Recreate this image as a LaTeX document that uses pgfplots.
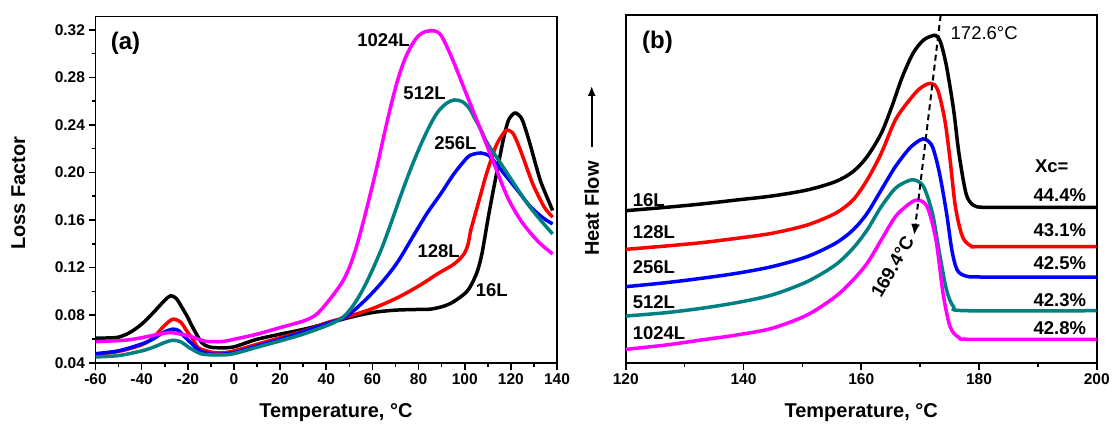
\documentclass[border=0pt]{standalone}
\usepackage{fontspec}
\setmainfont{Liberation Sans}
\usepackage{pgfplots}
\pgfplotsset{compat=1.18}
\usetikzlibrary{arrows.meta}
\definecolor{cteal}{RGB}{0,128,128}
\definecolor{cmag}{RGB}{255,0,255}
\definecolor{cred}{RGB}{255,0,0}
\definecolor{cblue}{RGB}{0,0,255}
\begin{document}
\begin{tikzpicture}
\useasboundingbox (0,0) rectangle (1113pt,426pt);
\pgfplotsset{common/.style={scale only axis, axis line style={line width=1.6pt},
  tick style={line width=1.6pt, black}, tick align=outside, major tick length=7pt, minor tick length=4pt,
  xtick pos=bottom, ytick pos=left,
  tick label style={font=\fontsize{15.5}{18}\selectfont\bfseries},
  /pgf/number format/assume math mode=true,
  label style={font=\fontsize{20}{24}\selectfont\bfseries},
  every axis plot/.append style={line width=3.5pt, smooth, no markers}}}
\newcommand{\clab}{\fontsize{18.5}{22}\selectfont\bfseries}
% ---------------- (a)
\begin{axis}[common, at={(95.5pt,63.3pt)}, anchor=south west, width=461.5pt, height=346pt,
  xmin=-60, xmax=140, ymin=0.04, ymax=0.331,
  xtick={-60,-40,-20,0,20,40,60,80,100,120,140},
  ytick={0.04,0.08,0.12,0.16,0.20,0.24,0.28,0.32},
  minor x tick num=1, minor y tick num=1,
  yticklabel style={/pgf/number format/.cd, fixed, fixed zerofill, precision=2},
  xlabel={Temperature, °C}, ylabel={Loss Factor},
  xlabel style={at={(axis description cs:0.521,-0.143)}, anchor=center},
  ylabel style={at={(axis description cs:-0.167,0.49)}, anchor=center}]
% 16L
\addplot[black] coordinates {(-60,0.0606) (-55,0.0608) (-50,0.0615) (-45,0.0655) (-40,0.0724) (-35,0.082) (-30,0.0925) (-27.4,0.0963) (-25,0.094) (-22.5,0.0864) (-20,0.078) (-17.8,0.0695) (-14,0.0569) (-11,0.0535) (-8.5,0.0527) (-4,0.0525) (0,0.0533) (5,0.0565) (10,0.0597) (20,0.064) (30,0.068) (40,0.0729) (50,0.078) (60,0.0822) (70,0.0842) (80,0.0848) (85,0.085) (90,0.087) (94,0.090) (98,0.095) (101,0.100) (103,0.106) (105.5,0.117) (107.5,0.132) (110,0.160) (112,0.181) (114.5,0.206) (117,0.230) (119,0.244) (121.4,0.2498) (123,0.249) (125,0.244) (128,0.226) (131,0.205) (133,0.192) (135.5,0.180) (138.1,0.168)};
% 128L
\addplot[cred] coordinates {(-60,0.047) (-50,0.0495) (-40,0.055) (-35,0.061) (-30,0.0715) (-26.4,0.0766) (-23,0.074) (-20.9,0.068) (-18,0.060) (-15.5,0.0527) (-12,0.050) (-8.5,0.0484) (-4,0.0485) (0,0.0499) (10,0.0555) (20,0.061) (30,0.0665) (40,0.0735) (49,0.0785) (60,0.0855) (70.7,0.0945) (80.9,0.1055) (88.1,0.1146) (95.4,0.123) (99.7,0.1315) (101.5,0.140) (102.6,0.1511) (105,0.168) (107,0.182) (109,0.196) (111.3,0.210) (113.5,0.222) (115.7,0.2299) (118,0.2355) (120,0.2345) (121.4,0.2313) (123.5,0.222) (125.8,0.210) (128,0.198) (130.1,0.1877) (134.5,0.1708) (138.1,0.1624)};
% 256L
\addplot[cblue] coordinates {(-60,0.0476) (-50,0.050) (-40,0.0557) (-35,0.060) (-30,0.066) (-26.4,0.0682) (-24,0.067) (-21,0.061) (-18,0.0555) (-14.7,0.0499) (-10,0.0475) (-7,0.047) (0,0.0485) (10,0.054) (20,0.0597) (30,0.066) (40,0.0728) (48,0.078) (56,0.091) (63.5,0.1062) (70.7,0.124) (78,0.1475) (83.8,0.166) (89.6,0.182) (95.4,0.199) (101.2,0.2127) (104,0.2155) (107,0.2164) (109,0.2155) (111.3,0.2127) (117.1,0.199) (122.9,0.1849) (128.7,0.1708) (134.5,0.161) (138.1,0.1568)};
% 512L
\addplot[cteal] coordinates {(-60,0.0448) (-50,0.046) (-40,0.0499) (-35,0.053) (-30,0.057) (-26.4,0.0589) (-23,0.0575) (-19.4,0.0527) (-16,0.049) (-13.2,0.047) (-5.4,0.0465) (0,0.0476) (10,0.053) (20,0.0583) (30,0.064) (40,0.071) (44,0.0745) (48,0.0795) (52,0.089) (56,0.102) (60,0.118) (64,0.136) (68,0.157) (72,0.179) (76,0.200) (80,0.219) (84,0.236) (88,0.250) (92,0.258) (95.5,0.261) (99,0.2595) (102,0.254) (104,0.2468) (107,0.236) (109.9,0.2243) (115.7,0.2074) (121.4,0.1905) (127.2,0.1737) (133,0.1596) (138.1,0.1483)};
% 1024L
\addplot[cmag] coordinates {(-60,0.0577) (-47.3,0.0589) (-40,0.061) (-36.4,0.0625) (-30,0.0648) (-27.1,0.0653) (-23,0.064) (-19.4,0.0625) (-15,0.0595) (-12.4,0.058) (-5.4,0.0577) (0,0.0597) (10,0.064) (20,0.0695) (30,0.075) (35,0.0795) (38,0.085) (41,0.092) (44,0.0995) (47,0.108) (50,0.120) (53,0.137) (56,0.158) (59,0.181) (62,0.205) (65,0.231) (68,0.256) (71,0.278) (74,0.295) (77,0.307) (80,0.315) (83,0.3185) (87,0.319) (89.5,0.316) (92,0.307) (95.4,0.292) (101.2,0.2636) (107,0.2355) (112.8,0.207) (118.6,0.179) (124.3,0.1596) (130.1,0.1455) (134,0.138) (138.1,0.1315)};
\node[font=\fontsize{24}{28}\selectfont\bfseries] at (axis cs:-47,0.309) {(a)};
\node[font=\clab] at (axis cs:64.8,0.311) {1024L};
\node[font=\clab] at (axis cs:82.6,0.2665) {512L};
\node[font=\clab] at (axis cs:96,0.2243) {256L};
\node[font=\clab] at (axis cs:88.7,0.134) {128L};
\node[font=\clab] at (axis cs:111.7,0.101) {16L};
\end{axis}
% ---------------- (b)
\begin{axis}[common, at={(625.7pt,63.3pt)}, anchor=south west, width=471pt, height=347.7pt,
  xmin=120, xmax=200, ymin=0, ymax=1043,
  xtick={120,140,160,180,200}, minor x tick num=1, ytick=\empty,
  xlabel={Temperature, °C},
  xlabel style={at={(axis description cs:0.5,-0.144)}, anchor=center}]
\addplot[black] coordinates {(120,456) (126.8,466) (132.8,476) (138.8,488) (144.8,500) (150.8,518) (155.6,543) (158.6,573) (161,618) (163.4,688) (165.2,768) (167,858) (168.8,928) (170.6,968) (172.6,982) (173.5,960) (174.5,888) (175.7,758) (176.6,628) (177.8,508) (179,473) (180.8,466) (186.8,466) (200,466)};
\addplot[cred] coordinates {(120,340) (126.8,350) (132.8,360) (138.8,373) (144.8,388) (150.8,413) (155.6,448) (158.6,488) (161,548) (163.4,628) (165.8,728) (168.2,788) (170,823) (171.8,838) (173,818) (174.2,728) (175.1,608) (176,468) (177.2,378) (178.7,350) (180.8,348) (200,348)};
\addplot[cblue] coordinates {(120,228) (126.8,240) (132.8,253) (138.8,268) (144.8,288) (150.8,318) (155.6,358) (158.6,398) (161,448) (163.4,518) (165.8,588) (168.2,643) (170,668) (170.9,670) (172.1,648) (173.3,568) (174.5,448) (175.4,338) (176.3,278) (177.8,260) (180.8,257) (200,257)};
\addplot[cteal] coordinates {(120,140) (126.8,150) (132.8,163) (138.8,180) (144.8,203) (150.8,243) (155.6,293) (158.6,343) (161,398) (163.4,468) (165.8,523) (167.9,545) (169.1,548) (170.6,528) (172.1,448) (173.3,328) (174.5,218) (175.7,168) (177.8,156) (200,156)};
\addplot[cmag] coordinates {(120,40) (126.8,53) (132.8,68) (138.8,83) (144.8,103) (150.8,143) (155.6,198) (158.6,248) (161,298) (163.4,368) (165.8,438) (167.9,473) (169.5,488) (171.2,468) (172.7,368) (173.9,208) (175.1,108) (176.6,76) (179,70) (200,70)};
\draw[line width=2pt, dash pattern=on 6pt off 4pt, -{Latex[length=11pt,width=9pt]}] (axis cs:173.5,1043) -- (axis cs:169,383);
\node[font=\fontsize{24}{28}\selectfont\bfseries] at (axis cs:125.4,960) {(b)};
\node[font=\fontsize{18.5}{22}\selectfont, anchor=west] at (axis cs:174.6,988) {172.6°C};
\node[font=\clab, rotate=60] at (axis cs:165.3,288) {169.4°C};
\node[font=\clab, anchor=west] at (axis cs:120.6,488) {16L};
\node[font=\clab, anchor=west] at (axis cs:120.6,393) {128L};
\node[font=\clab, anchor=west] at (axis cs:120.6,288) {256L};
\node[font=\clab, anchor=west] at (axis cs:120.6,183) {512L};
\node[font=\clab, anchor=west] at (axis cs:120.6,88) {1024L};
\node[font=\clab, anchor=east] at (axis cs:195.8,588) {Xc=};
\node[font=\clab, anchor=east] at (axis cs:198.8,503) {44.4\%};
\node[font=\clab, anchor=east] at (axis cs:198.8,398) {43.1\%};
\node[font=\clab, anchor=east] at (axis cs:198.8,298) {42.5\%};
\node[font=\clab, anchor=east] at (axis cs:198.8,188) {42.3\%};
\node[font=\clab, anchor=east] at (axis cs:198.8,103) {42.8\%};
\end{axis}
\node[font=\fontsize{20}{24}\selectfont\bfseries, rotate=90] at (591.7pt,217.5pt) {Heat Flow};
\draw[line width=1.6pt, -{Latex[length=10pt,width=8pt]}] (591.7pt,279pt) -- (591.7pt,340pt);
\end{tikzpicture}
\end{document}
